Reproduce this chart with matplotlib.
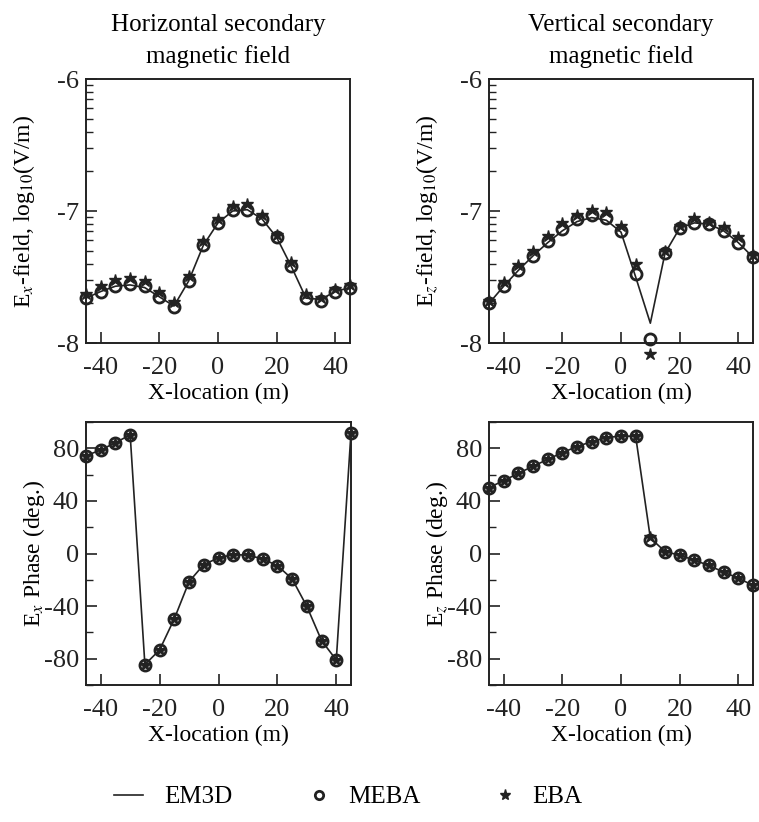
import numpy as np
import matplotlib
matplotlib.use("Agg")
import matplotlib.pyplot as plt
from matplotlib.lines import Line2D
from matplotlib.ticker import FixedLocator, FuncFormatter, LogLocator, NullFormatter, MultipleLocator

plt.rcParams['font.family'] = ['Liberation Serif', 'DejaVu Serif']
plt.rcParams['mathtext.fontset'] = 'stix'
plt.rcParams['axes.unicode_minus'] = False

x = [-45, -40, -35, -30, -25, -20, -15, -10, -5, 0, 5, 10, 15, 20, 25, 30, 35, 40, 45]

# log10 amplitude, horizontal secondary field (Ex)
ex_em3d = [-7.66, -7.61, -7.57, -7.56, -7.58, -7.65, -7.72, -7.53, -7.26, -7.09, -7.00, -6.99, -7.06, -7.20, -7.42, -7.66, -7.67, -7.61, -7.58]
ex_meba = [-7.66, -7.61, -7.57, -7.55, -7.57, -7.65, -7.73, -7.53, -7.26, -7.09, -6.99, -6.99, -7.06, -7.20, -7.42, -7.66, -7.68, -7.61, -7.58]
ex_eba = [-7.63, -7.57, -7.52, -7.51, -7.53, -7.61, -7.69, -7.49, -7.23, -7.06, -6.96, -6.95, -7.03, -7.18, -7.39, -7.63, -7.66, -7.59, -7.56]

# log10 amplitude, vertical secondary field (Ez)
ez_em3d = [-7.70, -7.57, -7.45, -7.34, -7.24, -7.15, -7.08, -7.05, -7.07, -7.16, -7.50, -7.85, -7.32, -7.13, -7.09, -7.10, -7.15, -7.24, -7.35]
ez_meba = [-7.70, -7.57, -7.45, -7.34, -7.23, -7.14, -7.06, -7.03, -7.05, -7.15, -7.48, -7.97, -7.32, -7.13, -7.09, -7.10, -7.15, -7.24, -7.35]
ez_eba = [-7.68, -7.54, -7.41, -7.30, -7.19, -7.09, -7.03, -6.99, -7.01, -7.11, -7.40, -8.08, -7.30, -7.11, -7.05, -7.08, -7.12, -7.20, -7.33]

# phase (deg.)
px_em3d = [74.4, 78.7, 84.3, 90.2, -84.5, -73.3, -49.6, -21.4, -8.4, -3.3, -0.8, -1.3, -4.1, -9.2, -19.3, -40.2, -66.2, -81.0, 92.0]
px_meba = [74.4, 78.7, 84.3, 90.2, -84.5, -73.3, -49.6, -21.4, -8.4, -3.3, -0.8, -1.3, -4.1, -9.2, -19.3, -40.2, -66.2, -81.0, 92.0]
px_eba = [74.4, 78.7, 84.3, 90.2, -84.5, -73.3, -49.6, -21.4, -8.4, -3.3, -0.8, -1.3, -4.1, -9.2, -19.3, -40.2, -66.2, -81.0, 92.0]

pz_em3d = [50.1, 55.4, 61.0, 66.3, 71.6, 76.7, 81.3, 85.1, 88.1, 89.4, 89.1, 11.8, 1.5, -1.3, -5.1, -9.1, -14.2, -18.7, -24.3]
pz_meba = [50.1, 55.4, 61.0, 66.3, 71.6, 76.7, 81.3, 85.1, 88.1, 89.4, 89.1, 10.5, 1.5, -1.3, -5.1, -9.1, -14.2, -18.7, -24.3]
pz_eba = [50.1, 55.4, 61.0, 66.3, 71.6, 76.7, 81.3, 85.1, 88.1, 89.4, 89.1, 12.3, 1.5, -1.3, -5.1, -9.1, -14.2, -18.7, -24.3]

xticks = [-40, -20, 0, 20, 40]
amp_ticks = [-8, -7, -6]
phase_ticks = [-80, -40, 0, 40, 80]
legend_labels = ['EM3D', 'MEBA', 'EBA']

TICK_FS = 19
LABEL_FS = 17
TITLE_FS = 18
LEG_FS = 18
INK = '#222222'

fig = plt.figure(figsize=(7.59, 8.22), dpi=100)

W, H = 759, 822
def rect(l, t, r, b):
    return [l / W, 1 - b / H, (r - l) / W, (b - t) / H]

ax_tl = fig.add_axes(rect(86, 79, 350, 343))
ax_tr = fig.add_axes(rect(489, 79, 753, 343))
ax_bl = fig.add_axes(rect(86, 422, 351, 685))
ax_br = fig.add_axes(rect(489, 422, 753, 685))

def style(ax):
    for s in ax.spines.values():
        s.set_linewidth(1.4)
        s.set_color(INK)
    ax.set_xlim(-45, 45)
    ax.xaxis.set_major_locator(FixedLocator(xticks))
    ax.tick_params(axis='both', which='major', direction='in', length=8, width=1.2,
                   labelsize=TICK_FS, top=False, right=False, colors=INK)
    ax.tick_params(axis='x', which='major', pad=10)
    ax.tick_params(axis='y', which='major', pad=5)
    ax.tick_params(axis='both', which='minor', direction='in', length=5, width=1.0,
                   top=False, right=False, bottom=False, colors=INK)
    ax.set_xlabel('X-location (m)', fontsize=LABEL_FS, labelpad=3)

def draw(ax, em, me, eb, logy):
    f = (lambda v: [10 ** a for a in v]) if logy else (lambda v: v)
    ax.plot(x, f(em), '-', color=INK, lw=1.2, zorder=2)
    ax.plot(x, f(me), 'o', mfc='none', mec=INK, mew=2.0, ms=8, zorder=3, clip_on=False)
    ax.plot(x, f(eb), '*', color=INK, ms=9, zorder=4, clip_on=False)

for ax, em, me, eb in [(ax_tl, ex_em3d, ex_meba, ex_eba), (ax_tr, ez_em3d, ez_meba, ez_eba)]:
    draw(ax, em, me, eb, True)
    ax.set_yscale('log')
    ax.set_ylim(1e-8, 1e-6)
    ax.yaxis.set_major_locator(FixedLocator([10.0 ** t for t in amp_ticks]))
    ax.yaxis.set_major_formatter(FuncFormatter(lambda v, p: '%d' % int(round(np.log10(v)))))
    ax.yaxis.set_minor_locator(LogLocator(base=10, subs=np.arange(2, 10)))
    ax.yaxis.set_minor_formatter(NullFormatter())
    style(ax)

for ax, em, me, eb in [(ax_bl, px_em3d, px_meba, px_eba), (ax_br, pz_em3d, pz_meba, pz_eba)]:
    draw(ax, em, me, eb, False)
    ax.set_ylim(-100, 100)
    ax.yaxis.set_major_locator(FixedLocator(phase_ticks))
    ax.yaxis.set_minor_locator(MultipleLocator(20))
    style(ax)

ax_tl.set_ylabel(r'E$_{\mathit{x}}$-field, log$_{10}$(V/m)', fontsize=LABEL_FS, labelpad=14)
ax_tr.set_ylabel(r'E$_{\mathit{z}}$-field, log$_{10}$(V/m)', fontsize=LABEL_FS, labelpad=14)
ax_bl.set_ylabel(r'E$_{\mathit{x}}$ Phase (deg.)', fontsize=LABEL_FS, labelpad=-2)
ax_br.set_ylabel(r'E$_{\mathit{z}}$ Phase (deg.)', fontsize=LABEL_FS, labelpad=-2)

ax_tl.set_title('Horizontal secondary\nmagnetic field', fontsize=TITLE_FS, pad=11.5, linespacing=1.5)
ax_tr.set_title('Vertical secondary\nmagnetic field', fontsize=TITLE_FS, pad=11.5, linespacing=1.5)

# legend: three separate entries placed along the bottom
ly = 1 - 797 / H
fig.legend([Line2D([], [], color=INK, lw=1.2)], [legend_labels[0]],
           loc='center left', bbox_to_anchor=(114 / W, ly), frameon=False, fontsize=LEG_FS,
           handlelength=1.15, handletextpad=0.85, borderpad=0, borderaxespad=0)
fig.legend([Line2D([], [], marker='o', ls='none', mfc='none', mec=INK, mew=2.0, ms=6)], [legend_labels[1]],
           loc='center left', bbox_to_anchor=(309 / W, ly), frameon=False, fontsize=LEG_FS,
           handlelength=0.8, handletextpad=0.75, borderpad=0, borderaxespad=0)
fig.legend([Line2D([], [], marker='*', ls='none', color=INK, ms=8)], [legend_labels[2]],
           loc='center left', bbox_to_anchor=(495 / W, ly), frameon=False, fontsize=LEG_FS,
           handlelength=0.8, handletextpad=0.7, borderpad=0, borderaxespad=0)

fig.savefig('out.png', dpi=100)
